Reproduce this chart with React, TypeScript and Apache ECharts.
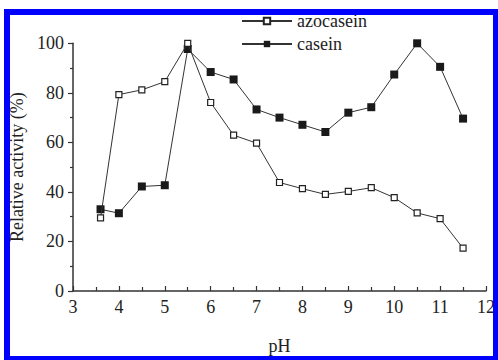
import React, { useEffect, useRef } from "react";
import * as echarts from "echarts";

const phValues = [3.6, 4, 4.5, 5, 5.5, 6, 6.5, 7, 7.5, 8, 8.5, 9, 9.5, 10, 10.5, 11, 11.5];
const azocasein = [29.5, 79.3, 81.2, 84.5, 100, 76.1, 62.9, 59.7, 43.8, 41.3, 39.0, 40.2, 41.7, 37.7, 31.5, 29.2, 17.3];
const casein = [33.0, 31.4, 42.2, 42.7, 97.7, 88.4, 85.4, 73.3, 70.0, 67.1, 64.2, 72.0, 74.2, 87.4, 100, 90.5, 69.6];
const seriesNames = ["azocasein", "casein"];
const xAxisTitle = "pH";
const yAxisTitle = "Relative activity (%)";

const FONT = '"Liberation Serif", "Times New Roman", serif';

export default function App() {
  const ref = useRef<HTMLDivElement>(null);
  useEffect(() => {
    const chart = echarts.init(ref.current!, null, { renderer: "svg" });
    const axisCommon = {
      axisLine: { show: true, lineStyle: { color: "#333", width: 1.5 } },
      splitLine: { show: false },
      axisLabel: { color: "#222", fontSize: 18, fontFamily: FONT },
      nameTextStyle: { color: "#222", fontSize: 18, fontFamily: FONT },
    };
    chart.setOption({
      animation: false,
      backgroundColor: "#fff",
      grid: { left: 72.7, right: 5.3, top: 43.3, bottom: 54.3, containLabel: false },
      legend: {
        orient: "vertical",
        left: 236,
        top: 7,
        itemWidth: 50,
        itemHeight: 8,
        itemGap: 5,
        textStyle: { color: "#222", fontSize: 18, fontFamily: FONT, lineHeight: 18 },
        data: seriesNames,
      },
      xAxis: {
        type: "value",
        min: 3,
        max: 12,
        interval: 1,
        name: xAxisTitle,
        nameLocation: "middle",
        nameGap: 46,
        ...axisCommon,
        axisTick: { show: true, inside: true, length: 5, lineStyle: { color: "#333", width: 1.2 } },
        minorTick: { show: true, splitNumber: 2, length: 4, lineStyle: { color: "#333", width: 1.2 } },
        axisLabel: { ...axisCommon.axisLabel, margin: 7 },
      },
      yAxis: {
        type: "value",
        min: 0,
        max: 100,
        interval: 20,
        name: yAxisTitle,
        nameLocation: "middle",
        nameGap: 47,
        nameRotate: 90,
        ...axisCommon,
        axisTick: { show: true, inside: false, length: 5, lineStyle: { color: "#333", width: 1.2 } },
        minorTick: { show: true, splitNumber: 2, length: 3, lineStyle: { color: "#333", width: 1.2 } },
        axisLabel: { ...axisCommon.axisLabel, margin: 9 },
      },
      series: [
        {
          name: seriesNames[1],
          type: "line",
          data: phValues.map((p, i) => [p, casein[i]]),
          symbol: "rect",
          symbolSize: 8,
          lineStyle: { color: "#333", width: 1 },
          itemStyle: { color: "#1a1a1a", borderColor: "#1a1a1a", borderWidth: 0 },
          z: 2,
        },
        {
          name: seriesNames[0],
          type: "line",
          data: phValues.map((p, i) => [p, azocasein[i]]),
          symbol: "rect",
          symbolSize: 6,
          lineStyle: { color: "#333", width: 1 },
          itemStyle: { color: "#fff", borderColor: "#222", borderWidth: 1.2 },
          z: 3,
        },
      ],
      graphic: [
        {
          type: "rect",
          shape: { x: 7, y: 12, width: 489, height: 347 },
          style: { fill: "none", stroke: "#0000ff", lineWidth: 6 },
          z: 100,
          silent: true,
        },
      ],
    });
    return () => chart.dispose();
  }, []);
  return (
    <div
      ref={ref}
      style={{ position: "fixed", left: 0, top: 0, width: 498, height: 360, background: "#fff" }}
    />
  );
}
